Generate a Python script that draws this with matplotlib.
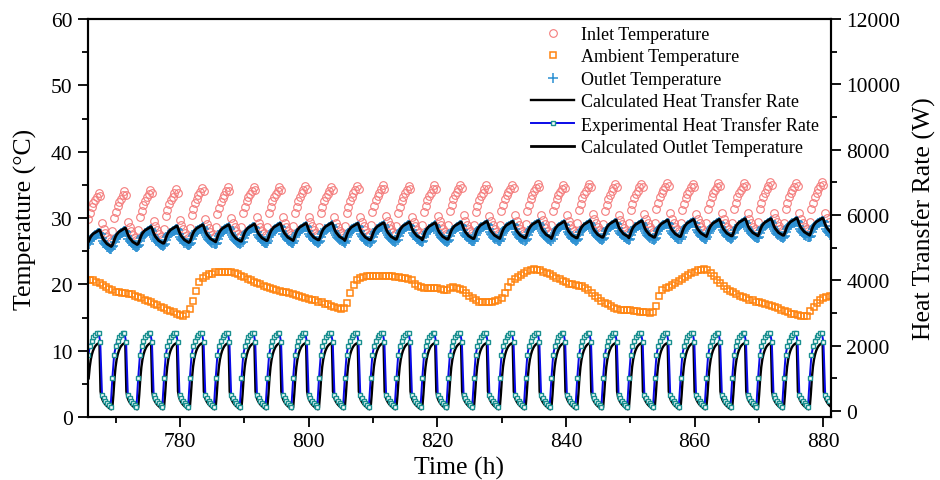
import numpy as np
import matplotlib
matplotlib.use("Agg")
import matplotlib.pyplot as plt
from matplotlib.lines import Line2D
from matplotlib.ticker import MultipleLocator

plt.rcParams['font.family'] = ['Liberation Serif', 'DejaVu Serif']

# timing of the charge cycles (h)
first_rise = 765.47
period = 4.015
n_cycles = 29
t_start, t_end = 765.7, 881.1

# per-cycle peaks (C)
inlet_peak = [33.8, 34.0, 34.2, 34.3, 34.5, 34.6, 34.7, 34.7, 34.8, 34.7,
              34.8, 34.9, 34.8, 34.9, 35.0, 34.9, 35.0, 35.1, 35.0, 35.2,
              35.1, 35.2, 35.3, 35.2, 35.3, 35.3, 35.4, 35.3, 35.4]
outlet_peak = [28.2, 28.5, 28.7, 28.8, 29.0, 29.0, 29.1, 29.2, 29.2, 29.3,
               29.2, 29.3, 29.4, 29.3, 29.4, 29.5, 29.5, 29.6, 29.5, 29.6,
               29.7, 29.6, 29.7, 29.8, 29.8, 29.9, 29.9, 30.0, 30.0]

# one cycle, relative to the cycle peak (C)
inlet_shape = [-6.0, -4.0, -3.1, -2.2, -1.6, -1.1, -0.6, 0.0, -0.5, -4.6,
               -5.4, -6.0, -6.6, -7.0, -7.3]
calc_out_shape = [-2.6, -2.2, -1.7, -1.3, -1.0, -0.8, -0.6, -0.5, -0.4, -0.3,
                  -0.2, -0.1, 0.0, -0.3, -0.8, -1.2, -1.5, -1.7, -1.9, -2.1,
                  -2.2, -2.3, -2.4, -2.5]
meas_out_shape = [-2.9, -2.7, -2.1, -1.7, -1.4, -1.2, -1.0, -0.9, -0.8, -0.7,
                  -0.6, -0.5, -0.4, -0.6, -1.2, -1.6, -1.9, -2.1, -2.3, -2.5,
                  -2.6, -2.7, -2.8, -2.9]

# one cycle of heat transfer rate (W)
exp_q_shape = [1000, 1700, 2000, 2150, 2250, 2320, 2380, 2400, 2100, 500,
               400, 320, 250, 180, 130]
calc_q_shape = [100, 500, 1000, 1350, 1580, 1730, 1840, 1920, 1980, 2020,
                2050, 2070, 2080, 600, 420, 330, 270, 220, 180, 150,
                120, 90, 70, 50]

# ambient temperature every 0.5 h from 766 h (C)
ambient = [20.7, 20.6, 20.4, 20.2, 19.9, 19.6, 19.3, 19.1, 18.9, 18.8,
           18.7, 18.7, 18.6, 18.5, 18.3, 18.1, 17.9, 17.7, 17.5, 17.3,
           17.1, 16.9, 16.6, 16.4, 16.2, 16.0, 15.8, 15.6, 15.4, 15.3,
           15.6, 16.3, 17.5, 19.0, 20.3, 21.0, 21.3, 21.5, 21.6, 21.8,
           21.9, 21.9, 21.9, 21.9, 21.8, 21.7, 21.5, 21.3, 21.1, 20.8,
           20.6, 20.4, 20.2, 20.0, 19.8, 19.6, 19.5, 19.3, 19.2, 19.0,
           18.9, 18.8, 18.7, 18.5, 18.4, 18.2, 18.1, 17.9, 17.8, 17.7,
           17.6, 17.4, 17.3, 17.1, 17.0, 16.8, 16.6, 16.4, 16.3, 16.4,
           17.2, 18.7, 19.9, 20.7, 21.0, 21.1, 21.2, 21.3, 21.3, 21.3,
           21.3, 21.3, 21.3, 21.2, 21.2, 21.1, 21.1, 21.0, 21.0, 20.8,
           20.6, 20.1, 19.8, 19.6, 19.5, 19.4, 19.4, 19.4, 19.4, 19.3,
           19.2, 19.2, 19.4, 19.6, 19.5, 19.3, 19.1, 18.7, 18.3, 17.9,
           17.6, 17.4, 17.3, 17.3, 17.3, 17.4, 17.5, 17.7, 18.0, 18.7,
           19.6, 20.3, 20.8, 21.1, 21.4, 21.7, 22.0, 22.2, 22.3, 22.2,
           22.1, 21.9, 21.7, 21.5, 21.3, 21.0, 20.8, 20.5, 20.3, 20.1,
           20.0, 19.9, 19.8, 19.7, 19.5, 19.1, 18.7, 18.3, 17.9, 17.5,
           17.2, 17.0, 16.8, 16.5, 16.3, 16.2, 16.1, 16.1, 16.1, 16.0,
           16.0, 15.9, 15.8, 15.8, 15.7, 15.9, 16.8, 18.2, 19.2, 19.4,
           19.6, 19.9, 20.2, 20.5, 20.8, 21.1, 21.4, 21.7, 21.9, 22.1,
           22.2, 22.3, 22.2, 21.7, 21.2, 20.7, 20.2, 19.7, 19.3, 19.0,
           18.8, 18.5, 18.3, 18.1, 17.9, 17.7, 17.6, 17.4, 17.3, 17.2,
           17.1, 16.9, 16.8, 16.6, 16.4, 16.2, 16.0, 15.8, 15.6, 15.5,
           15.4, 15.3, 15.2, 15.3, 16.0, 16.6, 17.2, 17.6, 17.9, 18.1,
           18.3]

c_inlet = '#f47c7c'
c_amb = '#ff8410'
c_out = '#2a8fd2'
c_exp = '#0a0ae8'
c_expm = '#1a9090'


def cycles(shape, peaks=None):
    n = len(shape)
    ph = np.arange(n) * period / n
    t = first_rise + np.arange(n_cycles)[:, None] * period + ph[None, :]
    v = np.tile(np.asarray(shape, float), (n_cycles, 1))
    if peaks is not None:
        v = v + np.asarray(peaks)[:, None]
    t, v = t.ravel(), v.ravel()
    keep = (t >= t_start) & (t <= t_end)
    return t[keep], v[keep]


t_in, v_in = cycles(inlet_shape, inlet_peak)
t_co, v_co = cycles(calc_out_shape, outlet_peak)
t_mo, v_mo = cycles(meas_out_shape, outlet_peak)
t_eq, v_eq = cycles(exp_q_shape)
t_cq, v_cq = cycles(calc_q_shape)
t_amb = 766 + 0.5 * np.arange(len(ambient))

fig = plt.figure(figsize=(9.4, 4.81), dpi=100)
ax = fig.add_axes([88 / 940, 1 - 418 / 481, (831 - 88) / 940, 398 / 481])
ax2 = ax.twinx()

ax.plot(t_amb, ambient, ls='none', marker='s', ms=5.0, mfc='none', mec=c_amb, mew=1.1)
ax.plot(t_in, v_in, ls='none', marker='o', ms=5.5, mfc='none', mec=c_inlet, mew=0.8)
ax.plot(t_mo, v_mo, ls='none', marker='+', ms=6.5, mec=c_out, mew=1.1)
ax.plot(t_co, v_co, color='black', lw=2.0)

ax2.plot(t_cq, v_cq, color='black', lw=1.7)
ax2.plot(t_eq, v_eq, color=c_exp, lw=1.4, marker='s', ms=3.5, mfc='white', mec=c_expm, mew=1.0)

ax.set_xlim(765.7, 881.2)
ax.set_ylim(0, 60)
ax2.set_ylim(-184, 12000)

ax.xaxis.set_major_locator(MultipleLocator(20))
ax.xaxis.set_minor_locator(MultipleLocator(10))
ax.yaxis.set_major_locator(MultipleLocator(10))
ax.yaxis.set_minor_locator(MultipleLocator(5))
ax2.yaxis.set_major_locator(MultipleLocator(2000))
ax2.yaxis.set_minor_locator(MultipleLocator(1000))

for a in (ax, ax2):
    for s in a.spines.values():
        s.set_linewidth(1.5)
    a.tick_params(which='major', direction='out', length=7, width=1.3, labelsize=15.5, pad=4)
    a.tick_params(which='minor', direction='out', length=4.5, width=1.3)
ax.tick_params(axis='x', which='both', top=False)

ax.set_xlabel('Time (h)', fontsize=18.5, labelpad=3)
ax.set_ylabel('Temperature (°C)', fontsize=18.5, labelpad=10)
ax2.set_ylabel('Heat Transfer Rate (W)', fontsize=18.5, labelpad=9)

handles = [
    Line2D([], [], ls='none', marker='o', ms=5.5, mfc='none', mec=c_inlet, mew=0.8),
    Line2D([], [], ls='none', marker='s', ms=5.0, mfc='none', mec=c_amb, mew=1.1),
    Line2D([], [], ls='none', marker='+', ms=6.5, mec=c_out, mew=1.1),
    Line2D([], [], color='black', lw=1.7),
    Line2D([], [], color=c_exp, lw=1.4, marker='s', ms=3.5, mfc='white', mec=c_expm, mew=1.0),
    Line2D([], [], color='black', lw=2.0),
]
labels = ['Inlet Temperature', 'Ambient Temperature', 'Outlet Temperature',
          'Calculated Heat Transfer Rate', 'Experimental Heat Transfer Rate',
          'Calculated Outlet Temperature']
ax2.legend(handles, labels, loc='upper left', bbox_to_anchor=(522 / 940, 1 - 18 / 481),
           bbox_transform=fig.transFigure, frameon=False, fontsize=13, numpoints=1,
           handlelength=2.4, handletextpad=0.35, labelspacing=0.3, borderpad=0)

fig.savefig('out.png', dpi=100)
